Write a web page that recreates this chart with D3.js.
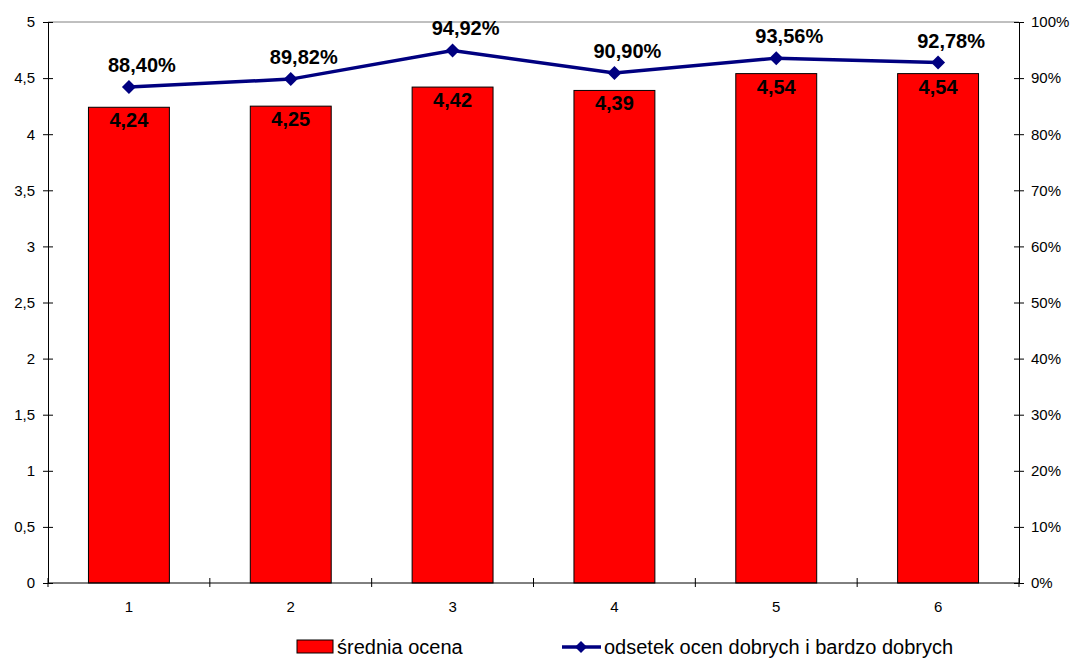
<!DOCTYPE html>
<html>
<head>
<meta charset="utf-8">
<script src="https://cdn.jsdelivr.net/npm/d3@7"></script>
<style>
  body { margin: 0; background: #fff; }
  svg { display: block; font-family: "Liberation Sans", Arial, sans-serif; }
</style>
</head>
<body>
<svg id="chart" width="1076" height="660"></svg>
<script>
// Data
const categories = ["1", "2", "3", "4", "5", "6"];
const averageGrade = [4.24, 4.25, 4.42, 4.39, 4.54, 4.54];
const goodShare = [88.40, 89.82, 94.92, 90.90, 93.56, 92.78];
const leftTicks = [0, 0.5, 1, 1.5, 2, 2.5, 3, 3.5, 4, 4.5, 5];
const rightTicks = [0, 10, 20, 30, 40, 50, 60, 70, 80, 90, 100];
const seriesNames = ["średnia ocena", "odsetek ocen dobrych i bardzo dobrych"];

const svg = d3.select("#chart");
const plotL = 48, plotR = 1019, plotT = 22, plotB = 583;

const x = d3.scaleBand().domain(categories).range([plotL, plotR]).paddingInner(0.5).paddingOuter(0.25);
const xb = d3.scaleBand().domain(categories).range([plotL, plotR]);
const yL = d3.scaleLinear().domain([0, 5]).range([plotB, plotT]);
const yR = d3.scaleLinear().domain([0, 100]).range([plotB, plotT]);

const fmt = (v, d) => v.toFixed(d).replace(".", ",");

// Plot area top border
svg.append("line").attr("x1", plotL).attr("x2", plotR).attr("y1", plotT).attr("y2", plotT)
  .attr("stroke", "#808080").attr("stroke-width", 1);

// Bars
svg.append("g").selectAll("rect").data(averageGrade).join("rect")
  .attr("x", (d, i) => x(categories[i]))
  .attr("width", x.bandwidth())
  .attr("y", d => yL(d))
  .attr("height", d => plotB - yL(d))
  .attr("fill", "#ff0000").attr("stroke", "#000").attr("stroke-width", 1);

// Bar value labels
svg.append("g").selectAll("text").data(averageGrade).join("text")
  .attr("x", (d, i) => x(categories[i]) + x.bandwidth() / 2)
  .attr("y", d => yL(d) + 20)
  .attr("text-anchor", "middle")
  .attr("font-size", 20).attr("font-weight", "bold").attr("fill", "#000")
  .text(d => fmt(d, 2));

// Left axis
const gL = svg.append("g").attr("transform", `translate(${plotL},0)`)
  .call(d3.axisLeft(yL).tickValues(leftTicks).tickFormat(d => String(d).replace(".", ",")).tickSizeOuter(0).tickSizeInner(5).tickPadding(8));
gL.selectAll(".tick line").attr("x2", 5).attr("x1", -5);
gL.selectAll("text").attr("font-size", 15).attr("font-family", "Liberation Sans, Arial, sans-serif").attr("fill", "#000");
gL.select(".domain").attr("stroke", "#000");

// Right axis
const gR = svg.append("g").attr("transform", `translate(${plotR},0)`)
  .call(d3.axisRight(yR).tickValues(rightTicks).tickFormat(d => d + "%").tickSizeOuter(0).tickSizeInner(5).tickPadding(7));
gR.selectAll(".tick line").attr("x1", -5).attr("x2", 5);
gR.selectAll("text").attr("font-size", 15).attr("font-family", "Liberation Sans, Arial, sans-serif").attr("fill", "#000");
gR.select(".domain").attr("stroke", "#000");

// Bottom axis with ticks at category boundaries
svg.append("line").attr("x1", plotL).attr("x2", plotR).attr("y1", plotB).attr("y2", plotB).attr("stroke", "#000");
const bounds = categories.map(c => xb(c)).concat([plotR]);
svg.append("g").selectAll("line").data(bounds).join("line")
  .attr("x1", d => d).attr("x2", d => d).attr("y1", plotB - 5).attr("y2", plotB + 4)
  .attr("stroke", "#000");
svg.append("g").selectAll("text").data(categories).join("text")
  .attr("x", d => xb(d) + xb.bandwidth() / 2)
  .attr("y", plotB + 29)
  .attr("text-anchor", "middle").attr("font-size", 15).attr("fill", "#000")
  .text(d => d);

// Line series
const cx = i => x(categories[i]) + x.bandwidth() / 2;
const line = d3.line().x((d, i) => cx(i)).y(d => yR(d));
svg.append("path").datum(goodShare).attr("d", line)
  .attr("fill", "none").attr("stroke", "#000080").attr("stroke-width", 3.5).attr("stroke-linejoin", "miter");

const diamond = s => `M0,${-s}L${s},0L0,${s}L${-s},0Z`;
svg.append("g").selectAll("path").data(goodShare).join("path")
  .attr("transform", (d, i) => `translate(${cx(i)},${yR(d)})`)
  .attr("d", diamond(7)).attr("fill", "#000080");

svg.append("g").selectAll("text").data(goodShare).join("text")
  .attr("x", (d, i) => cx(i) + 13)
  .attr("y", d => yR(d) - 15)
  .attr("text-anchor", "middle")
  .attr("font-size", 20).attr("font-weight", "bold").attr("fill", "#000")
  .text(d => fmt(d, 2) + "%");

// Legend
const lg = svg.append("g");
lg.append("rect").attr("x", 297).attr("y", 640).attr("width", 36).attr("height", 13)
  .attr("fill", "#ff0000").attr("stroke", "#000").attr("stroke-width", 1);
lg.append("text").attr("x", 337).attr("y", 654).attr("font-size", 20).attr("fill", "#000").text(seriesNames[0]);
lg.append("line").attr("x1", 562).attr("x2", 601).attr("y1", 647).attr("y2", 647)
  .attr("stroke", "#000080").attr("stroke-width", 3.5);
lg.append("path").attr("transform", "translate(581,647)").attr("d", diamond(6)).attr("fill", "#000080");
lg.append("text").attr("x", 604).attr("y", 654).attr("font-size", 20).attr("fill", "#000").text(seriesNames[1]);
</script>
</body>
</html>
